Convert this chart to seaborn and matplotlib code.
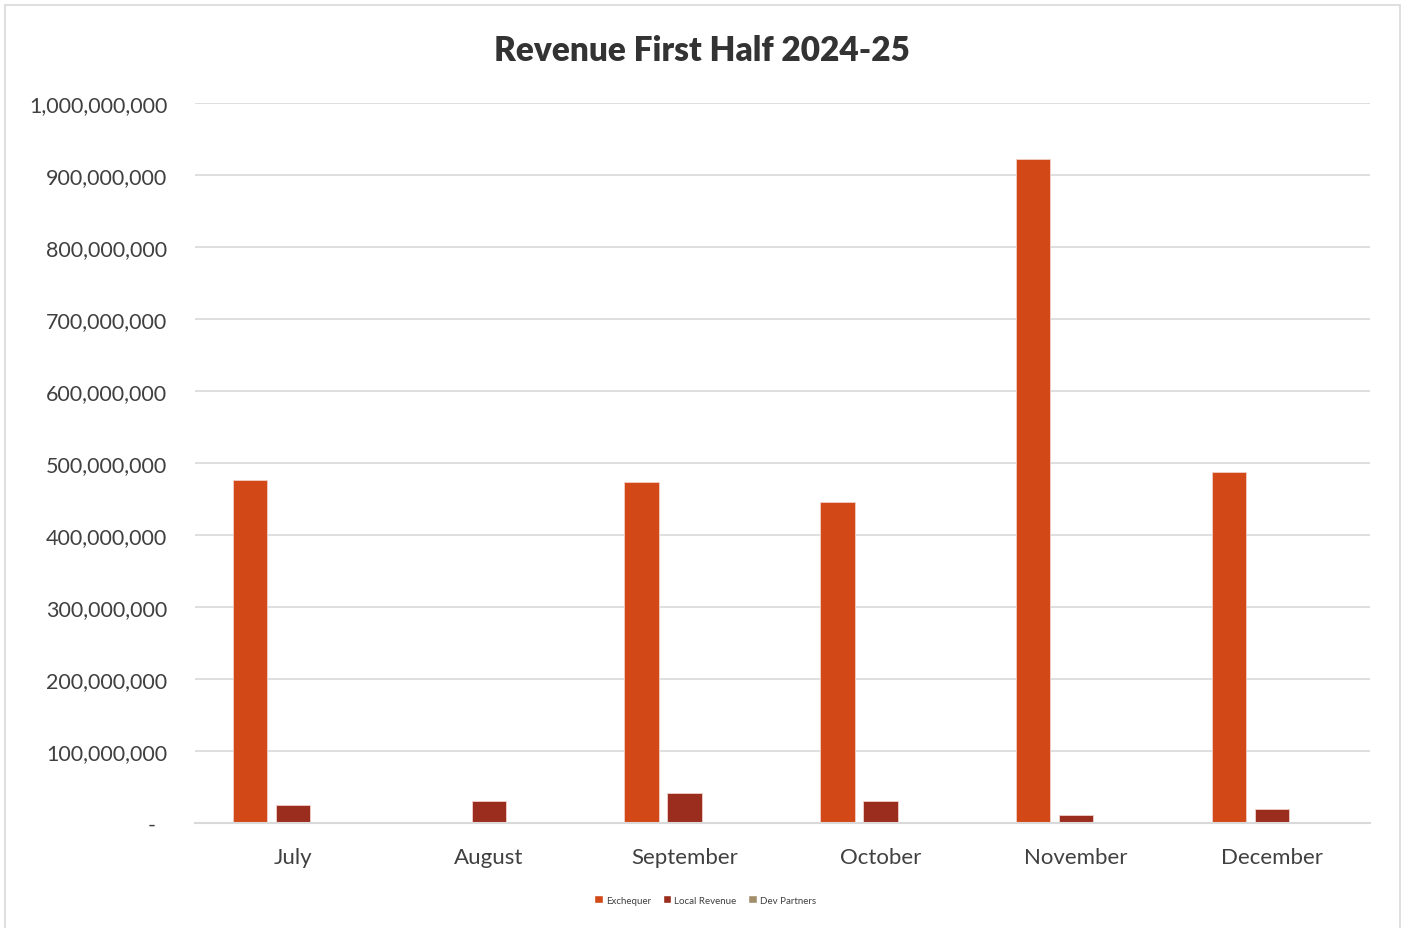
import matplotlib
matplotlib.use("Agg")
import matplotlib.pyplot as plt
import matplotlib.ticker as mticker
from matplotlib.patches import Rectangle, Patch
import seaborn as sns
import pandas as pd

months = ["July", "August", "September", "October", "November", "December"]
series = ["Exchequer", "Local Revenue", "Dev Partners"]
exchequer = [477e6, 0, 474e6, 446e6, 922e6, 487e6]
local_revenue = [25e6, 30.5e6, 41.5e6, 30.5e6, 11e6, 19.5e6]
dev_partners = [0, 0, 0, 0, 0, 0]
colors = ["#D34817", "#9B2D1F", "#A28E6A"]
title = "Revenue First Half 2024-25"

df = pd.DataFrame({
    "Month": months * 3,
    "Series": [s for s in series for _ in months],
    "Value": exchequer + local_revenue + dev_partners,
})

sns.set_theme(style="white")
plt.rcParams["font.family"] = ["Lato", "DejaVu Sans"]

W, H = 1407, 929
fig = plt.figure(figsize=(W / 100, H / 100), dpi=100)
fig.patch.set_facecolor("white")
ax = fig.add_axes([195 / W, (H - 824) / H, (1370 - 195) / W, (824 - 104) / H])

sns.barplot(data=df, x="Month", y="Value", hue="Series", order=months,
            hue_order=series, palette=colors, saturation=1, width=0.66, gap=0.2,
            edgecolor="#f0d0c8", linewidth=0.6, ax=ax, legend=False)

ax.set_ylim(0, 1e9)
ax.set_xlim(-0.5, 5.5)
ax.yaxis.set_major_locator(mticker.MultipleLocator(1e8))
ax.yaxis.set_major_formatter(mticker.FuncFormatter(
    lambda v, p: "-  " if v == 0 else f"{v:,.0f}"))
ax.grid(axis="y", color="#d9d9d9", linewidth=1.2)
ax.set_axisbelow(True)
for s in ["top", "right", "left"]:
    ax.spines[s].set_visible(False)
ax.spines["bottom"].set_color("#d9d9d9")
ax.spines["bottom"].set_linewidth(1.5)
ax.set_xlabel("")
ax.set_ylabel("")
ax.tick_params(axis="y", labelsize=15.5, colors="#404040", length=0, pad=20)
ax.tick_params(axis="x", labelsize=16, colors="#404040", length=0, pad=17)

fig.text(702 / W, 1 - 51 / H, title, ha="center", va="center",
         fontsize=24, fontweight="heavy", color="#333333")

handles = [Patch(facecolor=c, label=s) for c, s in zip(colors, series)]
fig.legend(handles=handles, loc="center", bbox_to_anchor=(705 / W, 1 - 901 / H),
           ncol=3, frameon=False, fontsize=7, handlelength=0.9, handleheight=0.9,
           handletextpad=0.3, columnspacing=1.2, labelcolor="#404040")

fig.patches.append(Rectangle((4.5 / W, -0.01), (1400 - 4.5) / W, (H - 6) / H + 0.01,
                             transform=fig.transFigure, fill=False,
                             edgecolor="#d9d9d9", linewidth=1.2))

fig.savefig("out.png", dpi=100)
